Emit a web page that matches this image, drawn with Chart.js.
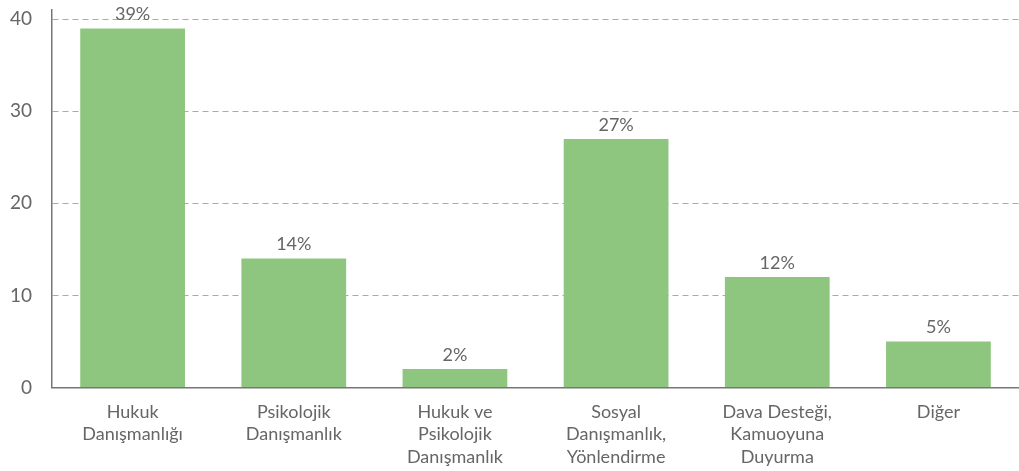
<!DOCTYPE html>
<html>
<head>
<meta charset="utf-8">
<script src="https://cdn.jsdelivr.net/npm/chart.js@4.4.0/dist/chart.umd.min.js"></script>
<style>
html,body{margin:0;padding:0;background:#fff;}
#wrap{width:1019px;height:471px;position:relative;}
</style>
</head>
<body>
<div id="wrap"><canvas id="c"></canvas></div>
<script>
const categories = [
  ["Hukuk", "Danışmanlığı"],
  ["Psikolojik", "Danışmanlık"],
  ["Hukuk ve", "Psikolojik", "Danışmanlık"],
  ["Sosyal", "Danışmanlık,", "Yönlendirme"],
  ["Dava Desteği,", "Kamuoyuna", "Duyurma"],
  ["Diğer"]
];
const values = [39, 14, 2, 27, 12, 5];
const valueLabels = ["39%", "14%", "2%", "27%", "12%", "5%"];
const yTicks = [0, 10, 20, 30, 40];

const labelPlugin = {
  id: 'valueLabels',
  afterDatasetsDraw(chart) {
    const ctx = chart.ctx;
    const meta = chart.getDatasetMeta(0);
    ctx.save();
    ctx.font = '18px Lato';
    ctx.fillStyle = '#666';
    ctx.textAlign = 'center';
    ctx.textBaseline = 'bottom';
    meta.data.forEach((bar, i) => {
      ctx.fillText(valueLabels[i], bar.x, bar.y - 5);
    });
    ctx.restore();
  }
};

new Chart(document.getElementById('c'), {
  type: 'bar',
  data: {
    labels: categories,
    datasets: [{
      data: values,
      backgroundColor: '#8fc67f',
      borderWidth: 0,
      barPercentage: 0.65,
      categoryPercentage: 1
    }]
  },
  options: {
    responsive: true,
    maintainAspectRatio: false,
    animation: false,
    layout: { padding: { top: 0, left: 10, right: 0, bottom: -10 } },
    plugins: { legend: { display: false }, tooltip: { enabled: false } },
    scales: {
      x: {
        grid: { display: false, drawTicks: false },
        border: { color: '#777', width: 1.5 },
        ticks: {
          color: '#666',
          font: { family: 'Lato', size: 18, lineHeight: 1.25 },
          padding: 13,
          maxRotation: 0,
          autoSkip: false
        }
      },
      y: {
        min: 0,
        max: 41,
        afterBuildTicks(axis) {
          axis.ticks = yTicks.map(v => ({ value: v }));
        },
        grid: {
          color: '#aaa',
          lineWidth: 1,
          drawTicks: true,
          tickLength: 20,
          tickColor: 'rgba(0,0,0,0)'
        },
        border: { color: '#777', width: 1.5, dash: [6, 4], display: true },
        ticks: {
          color: '#666',
          font: { family: 'Lato', size: 19, lineHeight: 1.05 },
          padding: 0
        }
      }
    }
  },
  plugins: [labelPlugin]
});
</script>
</body>
</html>
